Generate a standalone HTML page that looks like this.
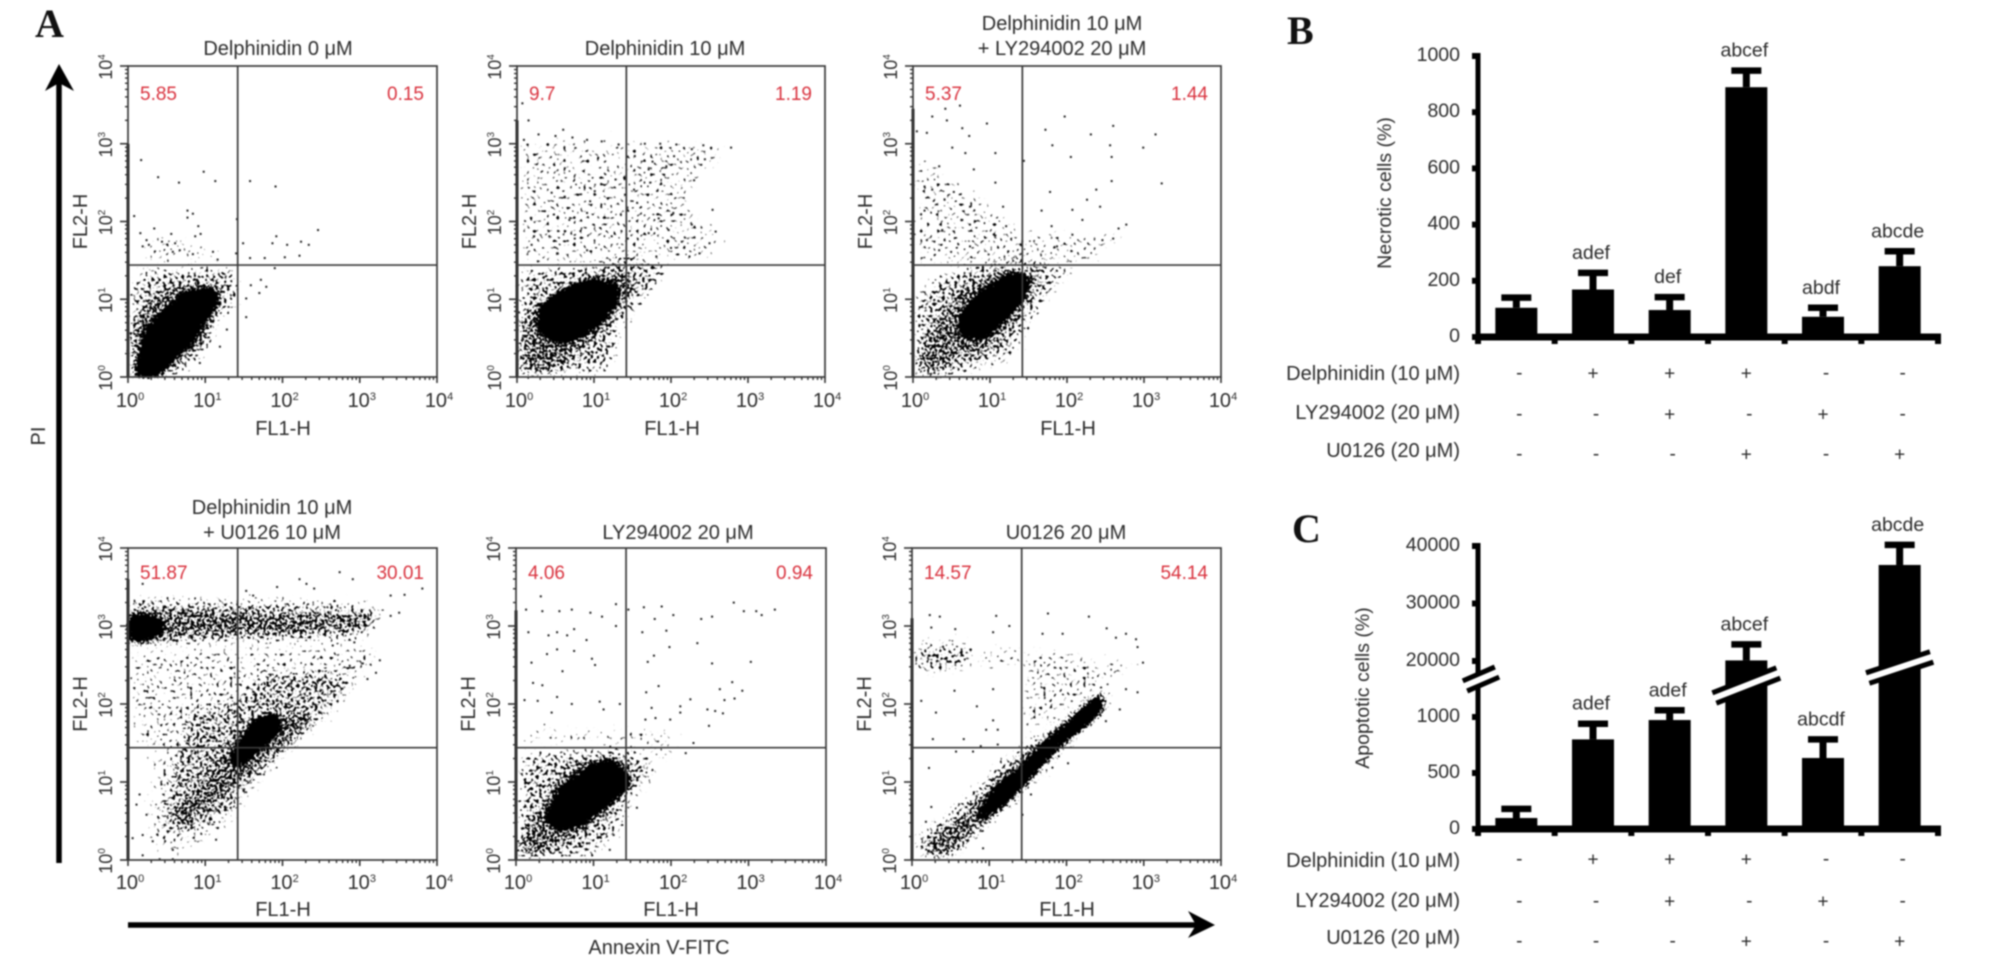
<!DOCTYPE html>
<html lang="en">
<head>
<meta charset="utf-8">
<title>Delphinidin flow cytometry and cell death bar charts</title>
<style>
  html, body { margin: 0; padding: 0; background: #fff; width: 2008px; height: 967px; overflow: hidden; }
  svg { display: block; filter: blur(0.7px); }
  text { font-family: "Liberation Sans", Arial, sans-serif; fill: #2c2c2c; }
  .panel-letter { font-family: "Liberation Serif", "Times New Roman", serif; font-weight: bold; font-size: 40px; fill: #111; }
  .title { font-size: 20px; text-anchor: middle; }
</style>
</head>
<body>
<svg id="figure" xmlns="http://www.w3.org/2000/svg" width="2008" height="967" viewBox="0 0 2008 967">
  <defs>
    <filter id="density-core" filterUnits="userSpaceOnUse" x="0" y="0" width="2008" height="967">
      <feGaussianBlur in="SourceAlpha" stdDeviation="5" result="mask"/>
      <feTurbulence type="fractalNoise" baseFrequency="0.42" numOctaves="1" seed="5"/>
      <feColorMatrix type="matrix" values="0 0 0 0 0  0 0 0 0 0  0 0 0 0 0  0 0 0 1 0" result="noise"/>
      <feComposite in="mask" in2="noise" operator="arithmetic" k1="0" k2="7.6" k3="8" k4="-6.8"/>
    </filter>
    <filter id="density-mid" filterUnits="userSpaceOnUse" x="0" y="0" width="2008" height="967">
      <feGaussianBlur in="SourceAlpha" stdDeviation="6" result="mask"/>
      <feTurbulence type="fractalNoise" baseFrequency="0.4" numOctaves="1" seed="3"/>
      <feColorMatrix type="matrix" values="0 0 0 0 0  0 0 0 0 0  0 0 0 0 0  0 0 0 1 0" result="noise"/>
      <feComposite in="mask" in2="noise" operator="arithmetic" k1="0" k2="3.1" k3="8" k4="-6.8"/>
    </filter>
    <filter id="density-low" filterUnits="userSpaceOnUse" x="0" y="0" width="2008" height="967">
      <feGaussianBlur in="SourceAlpha" stdDeviation="7" result="mask"/>
      <feTurbulence type="fractalNoise" baseFrequency="0.33" numOctaves="1" seed="8"/>
      <feColorMatrix type="matrix" values="0 0 0 0 0  0 0 0 0 0  0 0 0 0 0  0 0 0 1 0" result="noise"/>
      <feComposite in="mask" in2="noise" operator="arithmetic" k1="0" k2="2.7" k3="8" k4="-6.8"/>
    </filter>
    <filter id="density-faint" filterUnits="userSpaceOnUse" x="0" y="0" width="2008" height="967">
      <feGaussianBlur in="SourceAlpha" stdDeviation="7" result="mask"/>
      <feTurbulence type="fractalNoise" baseFrequency="0.3" numOctaves="1" seed="14"/>
      <feColorMatrix type="matrix" values="0 0 0 0 0  0 0 0 0 0  0 0 0 0 0  0 0 0 1 0" result="noise"/>
      <feComposite in="mask" in2="noise" operator="arithmetic" k1="0" k2="1.95" k3="8" k4="-6.8"/>
    </filter>
  </defs>

  <text class="panel-letter" x="35" y="37">A</text>
  <text class="panel-letter" x="1287" y="44">B</text>
  <text class="panel-letter" x="1292" y="542">C</text>

  <text class="title" x="278" y="55">Delphinidin 0 μM</text>
  <text class="title" x="665" y="55">Delphinidin 10 μM</text>
  <text class="title" x="1062" y="30">Delphinidin 10 μM</text>
  <text class="title" x="1062" y="55">+ LY294002 20 μM</text>
  <text class="title" x="272" y="514">Delphinidin 10 μM</text>
  <text class="title" x="272" y="539">+ U0126 10 μM</text>
  <text class="title" x="678" y="539">LY294002 20 μM</text>
  <text class="title" x="1066" y="539">U0126 20 μM</text>

  <g>
    <line x1="59" y1="863" x2="59" y2="80" stroke="#000" stroke-width="5.5"/>
    <polygon points="59,64 74,91 59,83 45,91" fill="#000"/>
  </g>
  <text x="45" y="436" font-size="20" text-anchor="middle" transform="rotate(-90 45 436)">PI</text>

  <g>
    <line x1="128" y1="925" x2="1202" y2="925" stroke="#000" stroke-width="5.5"/>
    <polygon points="1215,925 1188,911 1196,925 1188,938" fill="#000"/>
  </g>
  <text x="659" y="954" font-size="20" text-anchor="middle">Annexin V-FITC</text>

  <text x="1391" y="193" font-size="19.5" text-anchor="middle" transform="rotate(-90 1391 193)">Necrotic cells (%)</text>
  <text x="1369" y="688" font-size="19.5" text-anchor="middle" transform="rotate(-90 1369 688)">Apoptotic cells (%)</text>
</svg>

<script>
/* ---------- Flow cytometry data: coordinates are log10 decades (FL1, FL2) ---------- */
const flowTickExponents = [0, 1, 2, 3, 4];
const xAxisTitle = 'FL1-H';
const yAxisTitle = 'FL2-H';
const gateFL1 = 1.42;
const gateFL2 = 1.44;

const upperLeftPercent = ['5.85', '9.7', '5.37', '51.87', '4.06', '14.57'];
const upperRightPercent = ['0.15', '1.19', '1.44', '30.01', '0.94', '54.14'];

const axisEventTop = [3.0, 3.3, 3.45, 3.6, 3.2, 3.1];

const coreRegions = [
  [[[.1,.1],[.2,.6],[.5,.9],[.75,1.12],[1.15,1.16],[1.2,.97],[1,.7],[.82,.4],[.56,.2],[.4,0],[.02,0]]],
  [[[.25,.86],[.55,1.12],[.98,1.28],[1.33,1.2],[1.33,.97],[1.12,.7],[.8,.48],[.5,.42],[.28,.58]]],
  [[[.57,.77],[.88,1.12],[1.27,1.36],[1.55,1.28],[1.45,1],[1.18,.7],[.93,.47],[.62,.5]]],
  [[[0,3.14],[.26,3.16],[.5,3.06],[.46,2.88],[.19,2.8],[0,2.78]],
   [[1.32,1.33],[1.6,1.8],[1.95,1.9],[2,1.65],[1.77,1.47],[1.5,1.2],[1.32,1.18]]],
  [[[.36,.56],[.55,.93],[.91,1.2],[1.24,1.31],[1.52,1.03],[1.33,.8],[1.06,.6],[.85,.43],[.6,.37],[.39,.45]]],
  [[[.8,.56],[1.1,.97],[1.37,1.16],[1.63,1.46],[1.9,1.67],[2.16,1.9],[2.45,2.15],[2.5,1.95],[2.23,1.69],[1.93,1.47],[1.67,1.2],[1.46,.96],[1.15,.66],[.87,.48]]]
];

const midRegions = [
  [[[0,0],[0,.65],[.19,1],[.5,1.21],[1,1.25],[1.27,1.2],[1.18,.77],[1,.39],[.75,.17],[.58,0]]],
  [[[0,0],[0,.73],[.25,.99],[.85,1.29],[1.38,1.46],[1.6,1.16],[1.4,.9],[1.2,.6],[.9,.34],[.52,0]]],
  [[[0,0],[0,.3],[.3,.85],[.6,1.2],[1.2,1.42],[1.65,1.35],[1.6,1.05],[1.3,.6],[1,.3],[.6,.18],[.4,0]]],
  [[[0,3.3],[.93,3.26],[2,3.22],[2.87,3.18],[3.2,3.22],[3.16,2.92],[2.2,2.85],[.93,2.83],[.28,2.75],[0,2.75]],
   [[.5,.56],[.88,1.03],[1.31,1.55],[1.66,1.89],[2.22,1.97],[2.48,1.8],[2.13,1.46],[1.7,1.16],[1.36,.86],[1.01,.56],[.75,.34],[.54,.34]]],
  [[[0,0],[0,.34],[.27,.69],[.48,1.07],[.83,1.33],[1.39,1.37],[1.56,1.07],[1.39,.77],[.96,.34],[.66,.17],[.4,0]]],
  [[[.06,0],[.19,.3],[.62,.64],[1.05,1.07],[1.35,1.33],[1.74,1.67],[2.34,2.15],[2.64,2.23],[2.51,1.89],[2.08,1.55],[1.74,1.2],[1.35,.77],[.96,.43],[.62,.09],[.4,0]]]
];

const lowRegions = [
  [[[0,0],[0,1.16],[.19,1.42],[1.4,1.46],[1.5,1.16],[1.45,.95],[1.19,.73],[1.1,.34],[.84,.13],[.7,0]]],
  [[[0,0],[0,1.4],[.9,1.5],[1.5,1.65],[2.05,1.45],[1.75,1.05],[1.4,.65],[1.3,.2],[1.15,0]]],
  [[[0,0],[0,1.1],[.5,1.42],[1.3,1.6],[2,1.5],[2.1,1.35],[1.8,1.05],[1.5,.6],[1.3,.2],[.9,.1],[.8,0]]],
  [[[0,3.39],[2.65,3.35],[3.25,3.3],[3.34,3.13],[3.08,2.79],[0,2.7]],
   [[.37,.56],[.75,1.97],[1.36,2.06],[1.79,2.45],[2.65,2.49],[2.99,2.32],[2.74,1.97],[2.13,1.42],[1.7,.99],[1.19,.43],[.67,.3],[.41,.39]]],
  [[[0,0],[0,1.37],[.83,1.46],[1.43,1.46],[1.86,1.29],[1.82,1.07],[1.52,.77],[1.34,.34],[1,0]]],
  [[[0,2.83],[.4,2.83],[.83,2.79],[.79,2.45],[.4,2.36],[0,2.4]],
   [[.05,0],[.05,.3],[.7,.85],[1.15,1.3],[1.9,1.85],[2.2,1.6],[1.7,1.05],[1.1,.5],[.55,0]]]
];

const faintRegions = [
  [[[.1,1.45],[.3,1.9],[.9,1.75],[1.3,1.6],[1.4,1.46]]],
  [[[0,1.4],[0,3.1],[1.3,3.05],[2.1,3.05],[2.8,3],[2.6,2.7],[2.2,2.3],[2.7,1.8],[2.7,1.6],[2.3,1.45],[1.5,1.5]]],
  [[[0,1.4],[0,2.9],[.7,2.5],[1.4,1.9],[2.2,1.9],[2.9,1.9],[2.3,1.4]]],
  [[[0,2.75],[3.25,2.79],[3.25,2.49],[2.99,2.19],[2.48,1.72],[1.88,1.12],[1.19,.26],[.5,0],[.2,.3],[.3,1.4],[0,1.5]]],
  [[[.05,1.46],[.09,1.72],[1.26,1.72],[1.95,1.72],[2.21,1.37],[1.86,1.2],[1.43,1.46]]],
  [[[.83,2.79],[1.65,2.75],[2.51,2.62],[2.99,2.58],[2.77,2.36],[2.34,2.1],[1.74,1.72],[1.44,1.5],[1.39,2.06],[1.48,2.49],[.83,2.4]],
   [[0,.35],[.15,.55],[.6,.4],[.5,0],[0,0]]]
];

const sparsePoints = [
  [[.17,2.79],[.39,2.57],[.66,2.5],[.98,2.64],[1.13,2.52],[1.58,2.52],[1.91,2.45],[.77,2.14],[.84,2.1],[.77,2.05],[.08,2.07],[.91,1.94],[.87,1.81],[.94,1.84],[.34,1.91],[.56,1.84],[.16,1.85],[.24,1.76],[.19,1.68],[.27,1.7],[.44,1.74],[.61,1.72],[.58,1.61],[.67,1.63],[.84,1.58],[1.1,1.61],[1.16,1.51],[1.41,2.03],[1.4,1.59],[1.49,1.72],[1.92,1.81],[1.87,1.72],[2.06,1.7],[2.24,1.74],[2.34,1.7],[2.46,1.89],[1.58,1.53],[1.77,1.53],[2.03,1.54],[2.22,1.56],[1.9,1.4],[1.72,1.25],[1.79,1.16],[1.59,1.18],[1.7,1.08],[1.53,1.01],[1.53,.77],[1.28,.61],[1.19,.39],[.93,.18]],
  [[.07,3.52],[.15,3.3],[.6,3.18],[.09,3.05],[.28,3.12],[.5,3.1],[.72,3.08],[.91,3.05],[1.1,3.03],[1.32,2.99],[1.66,3],[1.86,3],[2.07,2.99],[2.27,2.93],[2.42,2.98],[2.78,2.95],[1.53,2.84],[2.04,2.84],[2.44,2.8],[1.76,2.77],[1.94,2.71],[1.71,2.67],[2.3,2.53],[1.73,2.5],[1.52,2.41],[1.28,2.54],[1.01,2.39],[.45,2.37],[.62,2.32],[.95,2.26],[1.56,2.24],[.48,2.09],[.91,2.11],[2.03,2.11],[2.54,2.15],[1.84,2.04],[.68,2.02],[2.27,1.96],[1.97,1.89],[2.58,1.87],[2.5,1.72],[2.14,1.74],[1.71,1.85],[1.23,1.81],[.22,1.81],[.42,1.81],[.75,1.78],[1.44,1.78],[2.37,1.59],[2.24,1.55],[2,1.66],[1.81,1.55],[.19,1.7],[.52,1.59],[.91,1.63]],
  [[.42,3.45],[.61,3.49],[.25,3.35],[.44,3.3],[.05,3.16],[.18,3.14],[.64,3.2],[.73,3.1],[.96,3.26],[1.97,3.35],[1.72,3.18],[2.6,3.23],[2.31,3.12],[3.15,3.12],[2.99,2.95],[2.56,2.98],[1.81,2.98],[2.05,2.83],[2.58,2.83],[1.44,2.78],[1.07,2.88],[.51,2.95],[.68,2.88],[.34,2.71],[.79,2.67],[1.07,2.5],[.15,2.45],[.25,2.41],[.53,2.38],[.41,2.28],[1.78,2.38],[2.58,2.52],[3.23,2.49],[2.38,2.41],[2.26,2.28],[2.43,2.19],[2.07,2.15],[1.67,2.14],[1.17,2.19],[.74,2.19],[.15,2.14],[.64,2.02],[1.21,1.94],[1.8,1.94],[2.2,2.02],[2.77,1.96],[2.67,1.91],[.38,1.89],[.74,1.96],[2.07,1.83],[2.46,1.76],[.18,1.76],[.41,1.76],[1.07,1.82],[1.87,1.68],[2.6,1.78],[.74,1.68],[.34,1.63]],
  [[2.74,3.69],[2.91,3.6],[2.22,3.6],[2.31,3.54],[2.41,3.48],[1.93,3.5],[1.53,3.45],[1.62,3.39],[3.81,3.48],[3.4,3.39],[3.58,3.4],[3.51,3.17],[3.4,3.13],[.19,3.54],[3.26,2.56],[3.04,2.52],[3.21,2.4],[3.1,2.32],[2.87,2.49],[2.93,2.79],[2.65,2.75],[.15,.84],[.11,.71],[.24,.58],[.19,.32],[.32,.24],[.06,.28],[.19,.06],[.41,.01],[.58,.01],[.58,.13],[1.14,.26]],
  [[.32,3.38],[.13,3.21],[.34,3.19],[.56,3.19],[.72,3.21],[.96,3.17],[1.11,3.12],[1.29,3.28],[1.29,3],[1.45,3.21],[1.65,3.24],[1.88,3.25],[2.03,3.14],[1.79,3.09],[2.39,3.09],[2.53,3.12],[2.81,3.3],[2.94,3.19],[3.1,3.19],[3.17,3.14],[3.34,3.21],[1.94,2.94],[1.63,2.92],[1.98,2.73],[2.34,2.78],[1.78,2.62],[1.7,2.54],[2.53,2.52],[3.03,2.54],[.16,2.92],[.42,2.88],[.53,2.92],[.66,2.88],[.75,2.96],[.91,2.82],[.53,2.7],[.75,2.68],[.4,2.64],[.2,2.53],[.98,2.58],[1.02,2.5],[.6,2.42],[.22,2.27],[.34,2.24],[1.84,2.23],[1.68,2.15],[2.79,2.28],[2.63,2.19],[2.92,2.17],[2.82,2.07],[2.69,2.05],[2.25,2.06],[2.12,1.97],[2.47,1.93],[2.57,1.91],[2.67,1.88],[1.75,1.95],[.11,2.05],[.28,2.04],[.53,2.09],[.72,2],[1.08,2.03],[1.13,1.93],[1.34,2],[.46,1.89],[2.49,1.72],[2.29,1.5],[2.19,1.37],[1.56,.67],[1.21,.13],[1.26,.32],[2.12,1.89],[1.99,1.8],[1.8,1.82],[1.67,1.8]],
  [[.23,3.14],[.36,3.12],[.25,2.98],[.56,2.96],[1.09,3.13],[1.26,3],[1.05,2.92],[1.76,3.16],[2.29,3.12],[2.52,2.97],[1.95,2.9],[1.69,2.9],[2.64,2.85],[2.77,2.9],[2.9,2.83],[2.92,2.73],[2.99,2.53],[2.92,2.15],[2.69,1.93],[2.77,2.19],[2.51,1.78],[1.05,2.19],[.55,2.17],[.12,2.04],[.31,1.89],[.84,1.97],[1.05,1.79],[.96,1.67],[1.11,1.67],[.27,1.55],[.67,1.55],[.57,1.39],[.79,1.39],[.22,1.18],[.25,.68],[.18,.49],[.89,1.46],[1.11,1.48],[2.02,1.24],[1.9,1.33],[1.54,.84],[1.43,.58],[.92,.15]]
];

/* ---------- Bar chart data ---------- */
const barGroupCount = 6;
const necroticMeans = [104, 169, 96, 889, 72, 252];
const necroticUpperErrors = [140, 228, 142, 948, 104, 305];
const necroticLetters = ['', 'adef', 'def', 'abcef', 'abdf', 'abcde'];
const necroticTicks = [0, 200, 400, 600, 800, 1000];

const apoptoticMeans = [98, 800, 973, 20100, 634, 36700];
const apoptoticUpperErrors = [180, 940, 1060, 22900, 800, 40200];
const apoptoticLetters = ['', 'adef', 'adef', 'abcef', 'abcdf', 'abcde'];
const apoptoticTicks = [0, 500, 1000, 20000, 30000, 40000];

const treatmentNames = ['Delphinidin (10 μM)', 'LY294002 (20 μM)', 'U0126 (20 μM)'];
const delphinidinRow = ['-', '+', '+', '+', '-', '-'];
const ly294002Row = ['-', '-', '+', '-', '+', '-'];
const u0126Row = ['-', '-', '-', '+', '-', '+'];

/* ---------- Drawing ---------- */
const NS = 'http://www.w3.org/2000/svg';
const figure = document.getElementById('figure');
const svgDefs = figure.querySelector('defs');

function make(tag, attrs, parent) {
  const node = document.createElementNS(NS, tag);
  for (const key in attrs) node.setAttribute(key, attrs[key]);
  parent.appendChild(node);
  return node;
}

const panelFrames = [
  { left: 128, right: 437, top: 66, bottom: 377 },
  { left: 517, right: 825, top: 66, bottom: 377 },
  { left: 913, right: 1221, top: 66, bottom: 377 },
  { left: 128, right: 437, top: 548, bottom: 860 },
  { left: 516, right: 826, top: 548, bottom: 860 },
  { left: 912, right: 1221, top: 548, bottom: 860 }
];

function drawRegions(regions, scaleX, scaleY, parent, filterId) {
  const group = make('g', { filter: 'url(#' + filterId + ')' }, parent);
  
  
  regions.forEach(function (region) {
    const pts = region.map(function (p) { return scaleX(p[0]).toFixed(1) + ',' + scaleY(p[1]).toFixed(1); }).join(' ');
    const el = make('polygon', { points: pts, fill: '#000' }, group);
    
    
  });
}

function drawFlowPanel(index) {
  const f = panelFrames[index];
  const scaleX = function (v) { return f.left + (v / 4) * (f.right - f.left); };
  const scaleY = function (v) { return f.bottom - (v / 4) * (f.bottom - f.top); };

  const g = make('g', {}, figure);
  
  

  const clip = make('clipPath', { id: 'plot-clip-' + index }, svgDefs);
  make('rect', { x: f.left - 2, y: f.top, width: f.right - f.left + 2, height: f.bottom - f.top + 2 }, clip);
  const clipped = make('g', { 'clip-path': 'url(#plot-clip-' + index + ')' }, g);
  
  

  drawRegions(faintRegions[index], scaleX, scaleY, clipped, 'density-faint');
  drawRegions(lowRegions[index], scaleX, scaleY, clipped, 'density-low');
  drawRegions(midRegions[index], scaleX, scaleY, clipped, 'density-mid');
  drawRegions(coreRegions[index], scaleX, scaleY, clipped, 'density-core');

  sparsePoints[index].forEach(function (p) {
    const dot = make('rect', { x: scaleX(p[0]) - 1, y: scaleY(p[1]) - 1, width: 2, height: 2, fill: '#222' }, clipped);
    
    
  });

  const axisEvents = make('line', { x1: f.left, x2: f.left, y1: scaleY(0), y2: scaleY(axisEventTop[index]), stroke: '#222', 'stroke-width': 3 }, g);
  
  

  const frame = make('rect', { x: f.left, y: f.top, width: f.right - f.left, height: f.bottom - f.top, fill: 'none', stroke: '#3a3a3a', 'stroke-width': 1.7 }, g);
  
  

  const gateV = make('line', { x1: scaleX(gateFL1), x2: scaleX(gateFL1), y1: f.top, y2: f.bottom, stroke: '#3a3a3a', 'stroke-width': 1.7 }, g);
  
  

  const gateH = make('line', { x1: f.left, x2: f.right, y1: scaleY(gateFL2), y2: scaleY(gateFL2), stroke: '#3a3a3a', 'stroke-width': 1.7 }, g);
  
  

  for (let d = 0; d < 4; d++) {
    for (let m = 2; m <= 9; m++) {
      const v = d + Math.log10(m);
      const tx = make('line', { x1: scaleX(v), x2: scaleX(v), y1: f.bottom, y2: f.bottom + 3, stroke: '#333', 'stroke-width': 1.4 }, g);
      
      
      const ty = make('line', { x1: f.left - 3, x2: f.left, y1: scaleY(v), y2: scaleY(v), stroke: '#333', 'stroke-width': 1.4 }, g);
      
      
    }
  }

  flowTickExponents.forEach(function (e) {
    const tx = make('line', { x1: scaleX(e), x2: scaleX(e), y1: f.bottom, y2: f.bottom + 6, stroke: '#333', 'stroke-width': 1.6 }, g);
    
    
    const ty = make('line', { x1: f.left - 8, x2: f.left, y1: scaleY(e), y2: scaleY(e), stroke: '#333', 'stroke-width': 1.6 }, g);
    
    

    const lx = make('text', { x: scaleX(e) + 2, y: f.bottom + 30 - (index > 2 ? 1 : 0), 'font-size': 20, 'text-anchor': 'middle' }, g);
    
    
    lx.textContent = '10';
    const sx = make('tspan', { 'font-size': 11, dy: -7 }, lx);
    sx.textContent = String(e);

    const bx = f.left - 16;
    const by = scaleY(e) + 1;
    const ly = make('text', { x: bx, y: by, 'font-size': 18, 'text-anchor': 'middle', transform: 'rotate(-90 ' + bx + ' ' + by + ')' }, g);
    
    
    ly.textContent = '10';
    const sy = make('tspan', { 'font-size': 10, dy: -7 }, ly);
    sy.textContent = String(e);
  });

  const xTitleEl = make('text', { x: f.left + 155, y: f.bottom + (index > 2 ? 56 : 58), 'font-size': 20, 'text-anchor': 'middle' }, g);
  
  
  xTitleEl.textContent = xAxisTitle;

  const tx = f.left - 41;
  const ty = (f.top + f.bottom) / 2;
  const yTitleEl = make('text', { x: tx, y: ty, 'font-size': 20, 'text-anchor': 'middle', transform: 'rotate(-90 ' + tx + ' ' + ty + ')' }, g);
  
  
  yTitleEl.textContent = yAxisTitle;

  const q1 = make('text', { x: f.left + 12, y: f.top + (index > 2 ? 31 : 34), 'font-size': 19, style: 'fill:#d9333f' }, g);
  
  
  q1.textContent = upperLeftPercent[index];

  const q2 = make('text', { x: f.right - 13, y: f.top + (index > 2 ? 31 : 34), 'font-size': 19, 'text-anchor': 'end', style: 'fill:#d9333f' }, g);
  
  
  q2.textContent = upperRightPercent[index];
}

for (let i = 0; i < panelFrames.length; i++) drawFlowPanel(i);

/* Bar charts */
const barLeft = 1478;
const barRight = 1938;
const barStep = (barRight - barLeft) / barGroupCount;
function barCenter(i) { return barLeft + (i + 0.5) * barStep; }

const necroticY = function (v) { return 337 - v * 0.281; };
const apoptoticY = function (v) {
  if (v <= 5000) return 829 - v * 0.112;
  return 661 - (v - 20000) * 0.00575;
};

function drawBarChart(means, errors, letters, ticks, rows, yScale, rowBaselines, markCenters) {
  const g = make('g', {}, figure);
  
  
  const y0 = yScale(0);
  const yTop = yScale(ticks[ticks.length - 1]);

  means.forEach(function (m, i) {
    const cx = barCenter(i);
    const bar = make('rect', { x: cx - 21, y: yScale(m), width: 42, height: y0 - yScale(m), fill: '#000' }, g);
    
    

    const stem = make('line', { x1: cx, x2: cx, y1: yScale(m), y2: yScale(errors[i]), stroke: '#000', 'stroke-width': 7 }, g);
    
    

    const cap = make('line', { x1: cx - 15, x2: cx + 15, y1: yScale(errors[i]), y2: yScale(errors[i]), stroke: '#000', 'stroke-width': 6.5 }, g);
    
    

    if (letters[i]) {
      const label = make('text', { x: cx - 2, y: yScale(errors[i]) - 14, 'font-size': 19.5, 'text-anchor': 'middle' }, g);
      
      
      label.textContent = letters[i];
    }
  });

  const yAxis = make('line', { x1: barLeft, x2: barLeft, y1: yTop - 3, y2: y0 + 4, stroke: '#000', 'stroke-width': 5 }, g);
  
  

  const xAxis = make('line', { x1: barLeft - 2, x2: barRight + 3, y1: y0, y2: y0, stroke: '#000', 'stroke-width': 7 }, g);
  
  

  for (let i = 0; i <= barGroupCount; i++) {
    const x = barLeft + i * barStep;
    const t = make('line', { x1: x, x2: x, y1: y0, y2: y0 + 7, stroke: '#000', 'stroke-width': 6 }, g);
    
    
  }

  ticks.forEach(function (v) {
    const y = yScale(v);
    const t = make('line', { x1: barLeft - 6, x2: barLeft, y1: y, y2: y, stroke: '#000', 'stroke-width': 6 }, g);
    
    
    const label = make('text', { x: 1460, y: y + 5, 'font-size': 19.5, 'text-anchor': 'end' }, g);
    
    
    label.textContent = String(v);
  });

  rows.forEach(function (row, r) {
    const name = make('text', { x: 1460, y: rowBaselines[r], 'font-size': 20, 'text-anchor': 'end' }, g);
    
    
    name.textContent = treatmentNames[r];
    row.forEach(function (mark, i) {
      const m = make('text', { x: barCenter(i) + (mark === '+' ? 0 : 3), y: markCenters[r] + (mark === '+' ? 6.5 : 6), 'font-size': 19, 'text-anchor': 'middle' }, g);
      
      
      m.textContent = mark;
    });
  });
  return g;
}

const treatmentRows = [delphinidinRow, ly294002Row, u0126Row];
drawBarChart(necroticMeans, necroticUpperErrors, necroticLetters, necroticTicks, treatmentRows, necroticY, [380, 419, 457], [373, 414, 454]);
const chartC = drawBarChart(apoptoticMeans, apoptoticUpperErrors, apoptoticLetters, apoptoticTicks, treatmentRows, apoptoticY, [867, 907, 944], [859, 901, 941]);

function drawBreak(parent, x1, y1, x2, y2) {
  const outer = make('line', { x1: x1, y1: y1, x2: x2, y2: y2, stroke: '#000', 'stroke-width': 16 }, parent);
  
  
  const inner = make('line', { x1: x1 - 2, y1: y1 + 0.8, x2: x2 + 2, y2: y2 - 0.8, stroke: '#fff', 'stroke-width': 6 }, parent);
  
  
}
drawBreak(chartC, 1465, 686, 1497, 672);
drawBreak(chartC, barCenter(3) - 32, 698, barCenter(3) + 32, 673);
drawBreak(chartC, barCenter(5) - 32, 678, barCenter(5) + 32, 657);
</script>
</body>
</html>
